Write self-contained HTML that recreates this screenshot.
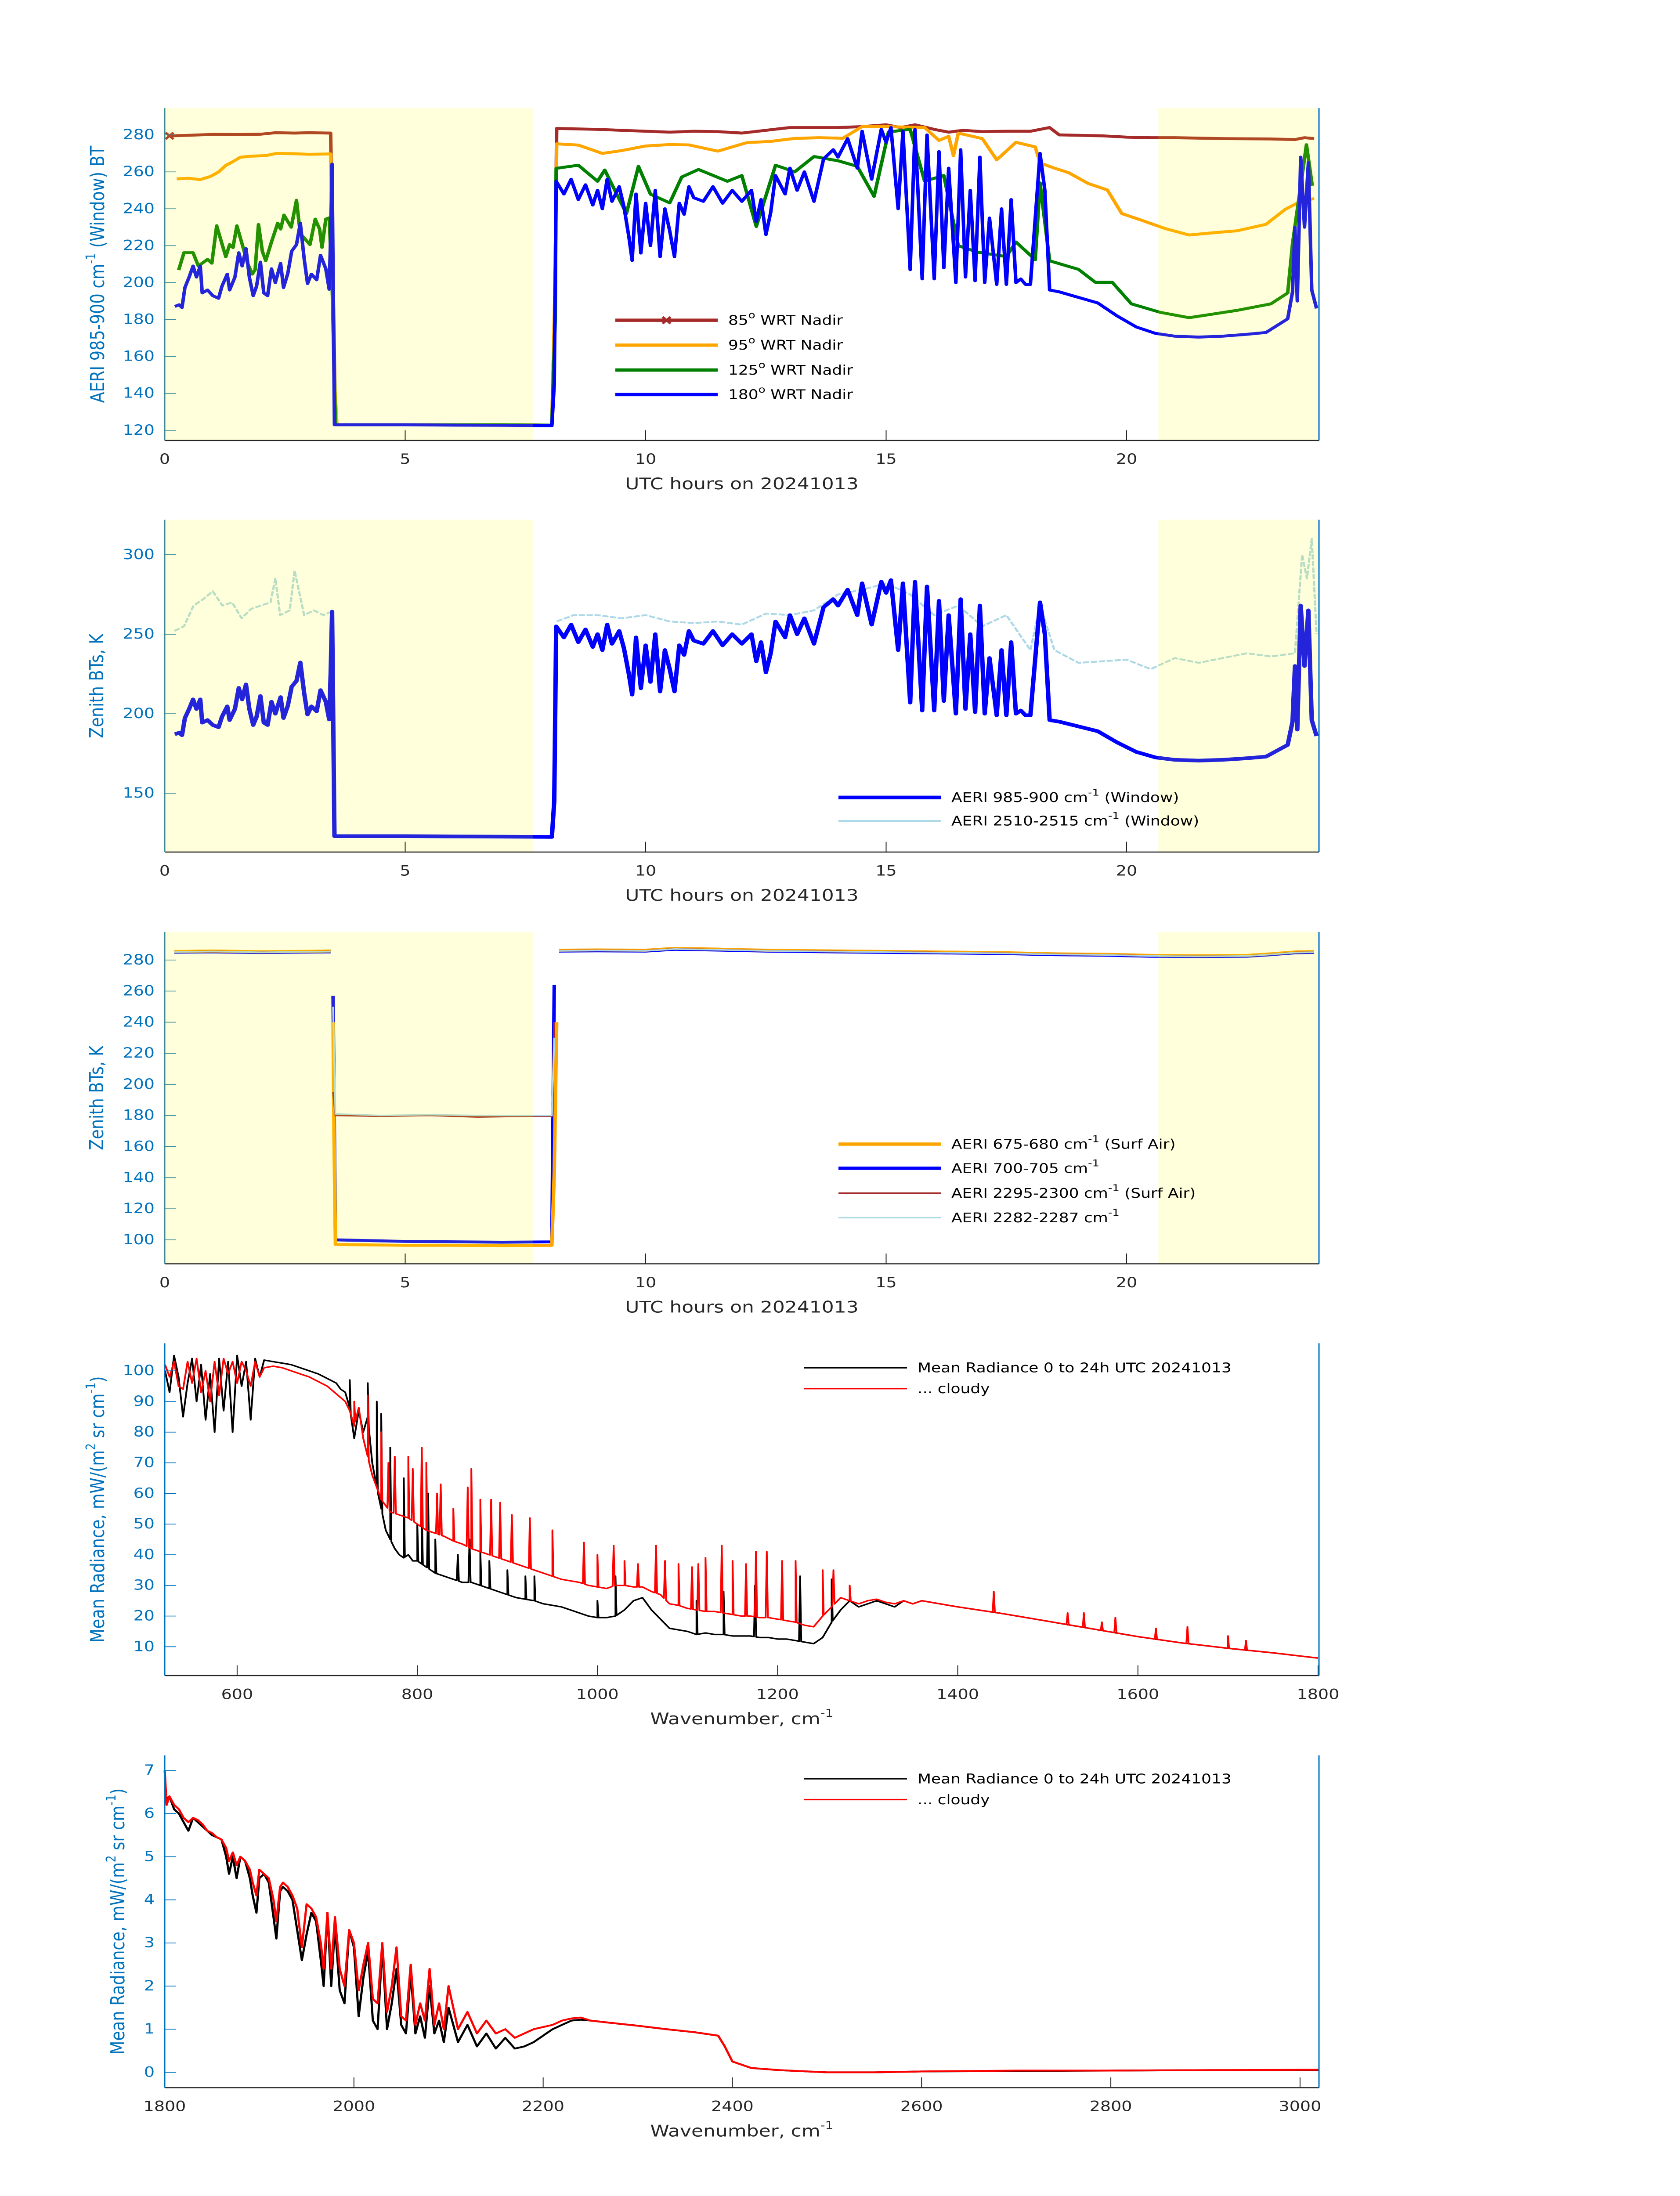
<!DOCTYPE html>
<html><head><meta charset="utf-8"><style>
html,body{margin:0;padding:0;background:#fff;width:100%;height:100%;overflow:hidden}
svg{display:block;position:fixed;left:0;top:0;width:100vw;height:100vh}
text{font-family:"DejaVu Sans","Liberation Sans",sans-serif}
</style></head><body>
<svg id="fig" xmlns="http://www.w3.org/2000/svg" viewBox="0 0 3825 6000" preserveAspectRatio="none"></svg>
<script>
// ---------- Panel 1: AERI 985-900 BT at scan angles ----------
const p1XTicks = [0,5,10,15,20];
const p1YTicks = [120,140,160,180,200,220,240,260,280];
const shadeSpans = [[0,7.66],[20.66,24]];
const bt85 = [[0.1,279.5],[0.5,279.8],[1.0,280.3],[1.5,280.2],[2.0,280.4],[2.3,281.2],[2.7,281],[3.0,281.2],[3.45,281],[3.5,200],[3.55,123],[5,123],[6,123],[7,123],[8.05,122.8],[8.12,200],[8.15,283.5],[9,283],[10,282],[10.5,281.5],[11,282],[11.5,281.8],[12,281],[12.5,282.5],[13,284],[14,284],[14.5,284.5],[15,285.5],[15.3,284],[15.6,285.5],[16,283],[16.3,281.5],[16.6,282.5],[17,281.8],[17.5,282],[18,282],[18.4,284],[18.6,280],[19,279.8],[19.5,279.5],[20,278.8],[20.5,278.5],[21,278.5],[22,278],[23,277.8],[23.5,277.5],[23.7,278.5],[23.9,278]];
const bt95 = [[0.25,256.2],[0.5,256.5],[0.74,255.8],[0.95,257.5],[1.12,259.9],[1.27,263.5],[1.45,266],[1.57,267.9],[1.8,268.5],[2.1,268.8],[2.33,270],[2.7,269.8],[3.0,269.5],[3.45,269.7],[3.52,150],[3.58,123],[5,123],[6,123],[7,123],[8.05,122.8],[8.12,200],[8.15,275.2],[8.6,274.5],[9.1,270],[9.5,271.5],[10,274],[10.5,274.8],[10.9,274.6],[11.5,271.2],[12.1,275.8],[12.6,276.5],[13.1,278.1],[13.6,278.5],[14.1,278.2],[14.5,284.5],[15.0,284.5],[15.8,284],[16.1,277],[16.3,279.3],[16.4,268.8],[16.5,281],[17.0,278],[17.3,266.5],[17.7,276],[18.1,273.5],[18.2,264.8],[18.5,262],[18.8,259.5],[19.2,253.7],[19.6,250.2],[19.9,237.4],[20.3,233.9],[20.8,229.3],[21.3,225.8],[21.8,227],[22.3,228.1],[22.9,231.6],[23.3,239.7],[23.65,244.4],[23.9,245.5]];
const bt125 = [[0.29,206.8],[0.4,216.2],[0.59,216.2],[0.7,209],[0.89,212.6],[0.98,210.5],[1.08,230.8],[1.27,214],[1.35,220.6],[1.42,219],[1.5,230.8],[1.73,210],[1.82,204.6],[1.88,207],[1.95,231.5],[2.03,217],[2.1,211.9],[2.22,222],[2.35,232.2],[2.41,229],[2.48,236.6],[2.63,230],[2.74,244.6],[2.82,226.4],[2.94,223],[3.02,220.6],[3.13,234.4],[3.22,229],[3.27,219.1],[3.35,234.4],[3.42,235.1],[3.48,200],[3.55,123],[5,123],[6,123],[7,123],[8.05,122.8],[8.12,180],[8.14,261.9],[8.6,263.6],[9.0,254.9],[9.15,261],[9.6,237.4],[9.85,263],[10.1,247.9],[10.5,243.2],[10.75,257.2],[11.1,261.3],[11.7,254.9],[12.0,258],[12.3,230.4],[12.7,263.6],[13.1,260],[13.5,268.3],[14.0,266],[14.4,263],[14.75,246.7],[15.05,281.6],[15.5,283],[15.8,255],[16.2,258],[16.5,220],[16.9,216.5],[17.5,214.1],[17.7,222],[18.1,212.4],[18.2,254],[18.4,211.8],[19.0,207.2],[19.35,200.2],[19.7,200.2],[20.1,188.5],[20.7,183.9],[21.3,181],[21.8,183],[22.3,185],[23.0,188.5],[23.35,194.4],[23.45,221.1],[23.74,274.7],[23.86,252.5]];
const bt180 = [[0.21,187.1],[0.3,188],[0.36,186.5],[0.42,197.3],[0.51,203.1],[0.59,209],[0.66,203],[0.74,209],[0.78,194.4],[0.89,196],[1.0,192.9],[1.12,191.5],[1.19,198],[1.3,204.6],[1.35,196],[1.46,203],[1.54,216.2],[1.61,209],[1.69,218.4],[1.76,203],[1.84,192.9],[1.91,198],[1.99,211.1],[2.06,194.4],[2.14,192.9],[2.22,207.5],[2.3,200],[2.41,210.4],[2.47,197.3],[2.56,205],[2.64,217],[2.74,220.6],[2.82,232.2],[2.9,213],[2.97,199.5],[3.05,204.6],[3.16,201.5],[3.24,214.8],[3.35,207.5],[3.42,196.4],[3.45,225],[3.48,264.2],[3.53,123],[5,123],[6,122.8],[7,122.7],[8.05,122.5],[8.1,145],[8.14,254.9],[8.3,248],[8.45,256],[8.6,245],[8.75,253],[8.9,242],[9.0,250],[9.1,240],[9.2,256],[9.3,244],[9.45,252],[9.55,241],[9.65,225],[9.72,212],[9.8,248],[9.9,216],[10.0,243],[10.1,220],[10.2,250],[10.3,214],[10.4,240],[10.5,228],[10.6,214],[10.7,243],[10.8,237],[10.9,252],[11.0,246],[11.2,244],[11.4,252],[11.6,243],[11.8,250],[12.0,244],[12.2,250],[12.3,233],[12.4,245],[12.5,226],[12.6,238],[12.7,258],[12.9,248],[13.0,262],[13.15,250],[13.3,260],[13.5,244],[13.7,267],[13.9,272],[14.0,268],[14.2,278],[14.4,262],[14.5,282],[14.7,256],[14.9,283],[15.0,276],[15.1,284],[15.25,240],[15.35,282],[15.5,207],[15.6,283],[15.75,202],[15.85,280],[16.0,202],[16.1,271],[16.2,208],[16.3,262],[16.45,200],[16.55,272],[16.65,203],[16.75,250],[16.85,201],[16.95,268],[17.05,200],[17.15,235],[17.3,199],[17.4,240],[17.5,199],[17.6,245],[17.7,200],[17.8,202],[17.9,199],[18.0,199],[18.2,270],[18.3,250],[18.4,196],[18.6,195],[19.0,192],[19.4,189],[19.8,182],[20.2,176],[20.6,172.5],[21.0,171],[21.5,170.5],[22.0,171],[22.5,172],[22.9,173],[23.35,180.4],[23.45,195],[23.5,230],[23.55,190],[23.62,268],[23.7,230],[23.78,265],[23.85,196],[23.95,186]];

// ---------- Panel 2: zenith window BTs ----------
const p2YTicks = [150,200,250,300];
const bt2510 = [[0.2,252],[0.4,255],[0.6,268],[0.8,272],[1.0,277],[1.2,268],[1.4,270],[1.6,260],[1.8,266],[2.0,268],[2.2,270],[2.3,285],[2.4,262],[2.6,265],[2.7,290],[2.9,262],[3.1,265],[3.3,262],[3.45,264],null,[8.15,258],[8.5,262],[9.0,262],[9.5,260],[10,262],[10.5,258],[11,257],[11.5,258],[12,256],[12.5,263],[13,262],[13.5,265],[14,275],[14.5,278],[15,282],[15.5,275],[16,262],[16.5,268],[17,255],[17.5,262],[18,240],[18.2,268],[18.5,240],[19,232],[19.5,233],[20,234],[20.5,228],[21,235],[21.5,232],[22,235],[22.5,238],[23,236],[23.5,238],[23.65,300],[23.75,285],[23.85,310],[23.95,250]];

// ---------- Panel 3: surface air BTs ----------
const p3YTicks = [100,120,140,160,180,200,220,240,260,280];
const bt675 = [[0.2,285.5],[1,285.8],[2,285.3],[3,285.6],[3.45,285.8],null,[3.5,240],[3.52,170],[3.55,97],[5,96.5],[6,96.5],[7,96.3],[8.05,96.5],[8.1,143],[8.15,240],null,[8.2,286.3],[9,286.5],[10,286.3],[10.6,287.5],[11.5,287],[12.5,286.3],[14,285.8],[16,285.2],[17.5,284.7],[18.5,284],[19.5,283.7],[20.5,283],[21.5,282.8],[22.5,283],[23,284],[23.5,285.2],[23.9,285.5]];
const bt700 = [[0.2,285],[1,285.2],[2,284.8],[3,285.1],[3.45,285.2],null,[3.5,257],[3.55,100],[5,99],[7,98.5],[8.05,98.7],[8.1,264],null,[8.2,285.7],[9,285.9],[10,285.7],[10.6,286.9],[11.5,286.4],[12.5,285.7],[14,285.2],[16,284.6],[17.5,284.1],[18.5,283.4],[19.5,283.1],[20.5,282.4],[21.5,282.2],[22.5,282.4],[23,283.4],[23.5,284.6],[23.9,284.9]];
const bt2295 = [[0.2,285.3],[1,285.6],[2,285.1],[3,285.4],[3.45,285.5],null,[3.5,195],[3.55,180],[4.5,179.5],[5.5,180],[6.5,179],[7.5,179.5],[8.05,179.5],[8.1,240],null,[8.2,286],[9,286.2],[10,286],[10.6,287.2],[11.5,286.7],[12.5,286],[14,285.5],[16,284.9],[17.5,284.4],[18.5,283.7],[19.5,283.4],[20.5,282.7],[21.5,282.5],[22.5,282.7],[23,283.7],[23.5,284.9],[23.9,285.2]];
const bt2282 = [[0.2,285.2],[1,285.5],[2,285],[3,285.3],[3.45,285.4],null,[3.5,250],[3.55,181],[4.5,180],[5.5,180.5],[6.5,180],[7.5,180],[8.05,180],[8.1,230],null,[8.2,285.9],[9,286.1],[10,285.9],[10.6,287.1],[11.5,286.6],[12.5,285.9],[14,285.4],[16,284.8],[17.5,284.3],[18.5,283.6],[19.5,283.3],[20.5,282.6],[21.5,282.4],[22.5,282.6],[23,283.6],[23.5,284.8],[23.9,285.1]];

// ---------- Panel 4: mean radiance 520-1800 ----------
const p4XTicks = [600,800,1000,1200,1400,1600,1800];
const p4YTicks = [10,20,30,40,50,60,70,80,90,100];
const radClear4 = [[520,100],[525,93],[530,105],[535,98],[540,85],[545,96],[550,104],[555,90],[560,102],[565,84],[570,99],[575,80],[580,104],[585,87],[590,103],[595,80],[600,105],[605,95],[610,103],[615,84],[620,104],[625,98],[630,103.5],[640,103],[650,102.5],[660,102],[670,101],[680,100],[690,99],[700,97.5],[710,96],[715,94],[720,93],[725,88],[730,78],[735,87],[740,80],[745,85],[750,70],[755,62],[760,55],[765,48],[770,45],[775,42],[780,40],[785,39],[790,40],[795,38],[800,38],[805,37],[810,36],[820,34],[830,33],[840,32],[850,31],[860,31],[870,30],[880,29],[890,28],[900,27],[910,26],[920,25.5],[930,25],[940,24],[950,23.5],[960,23],[970,22],[980,21],[990,20],[1000,19.5],[1010,19.5],[1020,20],[1030,22],[1040,25],[1050,26],[1055,24],[1060,22],[1070,19],[1080,16],[1090,15.5],[1100,15],[1110,14],[1120,14.5],[1130,14],[1140,14],[1150,13.5],[1160,13.5],[1170,13.5],[1180,13],[1190,13],[1200,12.5],[1210,12.5],[1220,12],[1230,11.5],[1240,11],[1250,13],[1260,18],[1270,22],[1280,25],[1290,23],[1300,24],[1310,25],[1320,24],[1330,23],[1340,25],[1350,24],[1360,25],[1370,24.5],[1380,24],[1400,23],[1450,20.8],[1500,18.3],[1550,15.8],[1600,13.3],[1650,11.2],[1700,9.5],[1750,8],[1800,6.3]];
const spikesClear4 = [[725,97],[745,96],[755,90],[760,86],[770,75],[785,65],[800,50],[805,55],[812,60],[820,45],[845,40],[858,45],[870,41],[880,38],[900,35],[920,33],[930,33],[1000,25],[1020,33],[1110,25],[1140,28],[1175,30],[1225,33],[1260,32]];
const radCloud4 = [[520,102],[525,98],[530,103],[535,95],[540,94],[545,103],[550,96],[555,104],[560,93],[565,100],[570,90],[575,103],[580,92],[585,104],[590,99],[595,103],[600,96],[605,103],[610,100],[615,95],[620,103],[625,98],[630,101],[640,101.5],[650,101],[660,100],[670,99],[680,98],[690,96.5],[700,95],[710,92.5],[720,90],[725,87],[730,82],[735,88],[740,78],[745,72],[750,66],[755,62],[760,58],[770,54],[780,53],[790,52],[800,50],[810,48],[820,47],[830,46],[840,44.5],[850,43.5],[860,42],[870,41],[880,40],[890,39],[900,38],[910,37],[920,36],[930,35],[940,34],[950,33],[960,32],[970,31.5],[980,31],[990,30],[1000,29.5],[1010,29],[1020,30],[1030,30],[1040,29.5],[1050,29.5],[1060,28],[1070,27],[1080,24],[1090,23.5],[1100,22.5],[1110,22],[1120,21.5],[1130,21.5],[1140,21],[1150,20.5],[1160,20],[1170,20],[1180,19.5],[1190,19.5],[1200,19],[1210,18.5],[1220,18],[1230,17],[1240,16.5],[1250,20],[1260,23],[1270,26],[1280,25],[1290,24],[1300,25],[1310,25.5],[1320,24.5],[1330,24],[1340,25],[1350,24],[1360,25],[1370,24.5],[1380,24],[1400,23],[1450,20.8],[1500,18.3],[1550,15.8],[1600,13.3],[1650,11.2],[1700,9.5],[1750,8],[1800,6.3]];
const spikesCloud4 = [[730,90],[745,92],[760,80],[768,70],[775,72],[790,72],[795,68],[805,75],[810,70],[822,60],[826,63],[840,55],[856,62],[860,68],[870,58],[882,58],[892,57],[905,53],[925,52],[950,48],[985,44],[1000,40],[1018,43],[1030,38],[1045,37],[1065,43],[1075,38],[1090,37],[1105,36],[1112,37],[1120,39],[1138,43],[1150,38],[1165,37],[1176,41],[1188,41],[1205,38],[1220,38],[1250,35],[1262,35],[1280,30],[1440,28],[1522,21],[1540,21],[1560,18],[1575,19.5],[1620,16],[1655,16.5],[1700,13.5],[1720,12]];

// ---------- Panel 5: mean radiance 1800-3020 ----------
const p5XTicks = [1800,2000,2200,2400,2600,2800,3000];
const p5YTicks = [0,1,2,3,4,5,6,7];
const radClear5 = [[1800,6.3],[1805,6.4],[1810,6.1],[1815,6.0],[1820,5.8],[1825,5.6],[1830,5.9],[1835,5.8],[1840,5.7],[1845,5.6],[1850,5.5],[1855,5.45],[1860,5.4],[1865,5.0],[1868,4.6],[1872,5.0],[1876,4.5],[1880,5.0],[1885,4.9],[1890,4.5],[1893,4.1],[1897,3.7],[1900,4.5],[1905,4.6],[1910,4.4],[1915,3.6],[1918,3.1],[1922,4.2],[1925,4.3],[1930,4.2],[1935,4.0],[1940,3.3],[1945,2.6],[1950,3.2],[1955,3.7],[1960,3.5],[1965,2.6],[1968,2.0],[1972,3.7],[1976,2.0],[1980,3.4],[1985,1.9],[1990,1.6],[1995,3.3],[2000,2.9],[2005,1.3],[2010,2.2],[2015,2.8],[2020,1.2],[2025,1.0],[2030,2.9],[2035,1.0],[2040,1.6],[2045,2.4],[2050,1.1],[2055,0.9],[2060,2.3],[2065,0.9],[2070,1.3],[2075,0.8],[2080,2.0],[2085,0.9],[2090,1.2],[2095,0.7],[2100,1.5],[2110,0.7],[2120,1.1],[2130,0.6],[2140,0.9],[2150,0.55],[2160,0.8],[2170,0.55],[2180,0.6],[2190,0.7],[2200,0.85],[2210,1.0],[2220,1.1],[2230,1.2],[2240,1.22],[2250,1.2],[2270,1.15],[2300,1.08],[2330,1.0],[2360,0.93],[2385,0.85],[2392,0.6],[2400,0.25],[2420,0.1],[2450,0.05],[2500,0.0],[2550,0.0],[2600,0.02],[2700,0.03],[2800,0.04],[2900,0.05],[3020,0.05]];
const radCloud5 = [[1800,7.0],[1802,6.2],[1805,6.4],[1810,6.2],[1815,6.1],[1820,5.9],[1825,5.8],[1830,5.9],[1835,5.85],[1840,5.75],[1845,5.6],[1850,5.55],[1855,5.45],[1860,5.4],[1865,5.2],[1868,4.9],[1872,5.1],[1876,4.8],[1880,5.0],[1885,4.9],[1890,4.7],[1893,4.4],[1897,4.1],[1900,4.7],[1905,4.6],[1910,4.5],[1915,4.0],[1918,3.5],[1922,4.3],[1925,4.4],[1930,4.3],[1935,4.1],[1940,3.8],[1945,2.9],[1950,3.9],[1955,3.8],[1960,3.6],[1965,3.0],[1968,2.4],[1972,3.7],[1976,2.4],[1980,3.6],[1985,2.4],[1990,2.0],[1995,3.3],[2000,3.0],[2005,1.9],[2010,2.5],[2015,3.0],[2020,1.7],[2025,1.6],[2030,3.0],[2035,1.4],[2040,2.0],[2045,2.9],[2050,1.3],[2055,1.2],[2060,2.5],[2065,1.1],[2070,1.6],[2075,1.2],[2080,2.4],[2085,1.1],[2090,1.6],[2095,1.0],[2100,2.0],[2110,1.0],[2120,1.4],[2130,0.9],[2140,1.2],[2150,0.9],[2160,1.0],[2170,0.8],[2180,0.9],[2190,1.0],[2200,1.05],[2210,1.1],[2220,1.2],[2230,1.25],[2240,1.27],[2250,1.2],[2270,1.15],[2300,1.08],[2330,1.0],[2360,0.93],[2385,0.85],[2392,0.6],[2400,0.25],[2420,0.1],[2450,0.05],[2500,0.0],[2550,0.0],[2600,0.02],[2700,0.04],[2800,0.04],[2900,0.05],[3020,0.06]];

const NS = "http://www.w3.org/2000/svg";
const fig = document.getElementById('fig');
function el(tag, attrs, parent){
  const e = document.createElementNS(NS, tag);
  for (const k in attrs) e.setAttribute(k, attrs[k]);
  (parent||fig).appendChild(e);
  return e;
}
function scale(d0,d1,r0,r1){ return v => r0 + (v-d0)/(d1-d0)*(r1-r0); }
function pathD(pts, sx, sy){
  let d = '', pen = false;
  for (const p of pts){
    if (!p){ pen=false; continue; }
    d += (pen?'L':'M') + sx(p[0]).toFixed(1) + ' ' + sy(p[1]).toFixed(1);
    pen = true;
  }
  return d;
}
function interp(base, x){
  for (let i=1;i<base.length;i++){
    if (base[i][0] >= x){
      const a=base[i-1], b=base[i];
      return a[1] + (b[1]-a[1])*(x-a[0])/(b[0]-a[0]);
    }
  }
  return base[base.length-1][1];
}
function withSpikes(base, spikes){
  const out = base.slice();
  for (const s of spikes){
    out.push([s[0]-1.2, interp(base, s[0]-1.2)]);
    out.push([s[0], s[1]]);
    out.push([s[0]+1.2, interp(base, s[0]+1.2)]);
  }
  out.sort((a,b)=>a[0]-b[0]);
  return out;
}

const L = 375, R = 3003;
const BLUE = '#0072BD', DARK = '#262626', TEAL = '#3b8b9c';

function makePanel(cfg){
  const g = el('g', {});
  
  
  const sx = scale(cfg.xd[0], cfg.xd[1], L, R);
  const sy = scale(cfg.yd[0], cfg.yd[1], cfg.bottom, cfg.top);
  return {g, sx, sy};
}
function drawAxes(P, cfg){
  const {g, sx, sy} = P;
  const axG = el('g', {}, g);
  
  
  const yc = cfg.yAxisColor;
  for (const t of cfg.yticks){
    const y = sy(t);
    const tk = el('line', {x1:L, x2:L+26, y1:y, y2:y, stroke:yc, 'stroke-width':2}, axG);
    
    
    const lb = el('text', {x:352, y:y, 'text-anchor':'end', 'dominant-baseline':'central', 'font-size':38, fill:BLUE}, axG);
    
    
    lb.textContent = t;
  }
  for (const t of cfg.xticks){
    const x = sx(t);
    const tk = el('line', {x1:x, x2:x, y1:cfg.bottom, y2:cfg.bottom-28, stroke:DARK, 'stroke-width':2}, axG);
    
    
    const lb = el('text', {x:x, y:cfg.bottom+52, 'text-anchor':'middle', 'dominant-baseline':'central', 'font-size':38, fill:DARK}, axG);
    
    
    lb.textContent = t;
  }
  const xa = el('line', {x1:L, x2:R, y1:cfg.bottom, y2:cfg.bottom, stroke:DARK, 'stroke-width':3}, axG);
  
  
  const ya = el('line', {x1:L, x2:L, y1:cfg.top, y2:cfg.bottom, stroke:yc, 'stroke-width':3}, axG);
  
  
  const ra = el('line', {x1:R, x2:R, y1:cfg.top, y2:cfg.bottom, stroke:BLUE, 'stroke-width':3}, axG);
  
  
  const xl = el('text', {x:(L+R)/2, y:cfg.bottom+118, 'text-anchor':'middle', 'dominant-baseline':'central', 'font-size':44, fill:DARK}, axG);
  
  
  xl.innerHTML = cfg.xlabel;
  const cy = (cfg.top+cfg.bottom)/2;
  const yl = el('text', {x:cfg.ylx, y:cy, 'text-anchor':'middle', 'dominant-baseline':'central', 'font-size':44, fill:BLUE, transform:`rotate(-90 ${cfg.ylx} ${cy})`}, axG);
  
  
  yl.innerHTML = cfg.ylabel;
}
function drawSeries(P, pts, color, w, name){
  const p = el('path', {d:pathD(pts, P.sx, P.sy), fill:'none', stroke:color, 'stroke-width':w, 'stroke-linejoin':'round', 'stroke-linecap':'butt'}, P.g);
  
  
  return p;
}
function drawShade(P, cfg){
  for (const s of shadeSpans){
    const x0 = P.sx(s[0]), x1 = Math.min(P.sx(s[1]), R-2);
    const r = el('rect', {x:x0, y:cfg.top, width:x1-x0, height:cfg.bottom-cfg.top, fill:'#ffff00', 'fill-opacity':0.14}, P.g);
    
    
  }
}
function legend(P, x0, x1, entries){
  const lg = el('g', {}, P.g);
  
  
  for (const e of entries){
    const ln = el('line', {x1:x0, x2:x1, y1:e.y, y2:e.y, stroke:e.color, 'stroke-width':e.w}, lg);
    
    
    if (e.marker){
      const mx = (x0+x1)/2;
      const mk = el('path', {d:`M${mx-9} ${e.y-9}L${mx+9} ${e.y+9}M${mx-9} ${e.y+9}L${mx+9} ${e.y-9}`, stroke:e.color, 'stroke-width':6}, lg);
      
      
    }
    const tx = el('text', {x:x1+24, y:e.y, 'dominant-baseline':'central', 'font-size':36, fill:'#000'}, lg);
    
    
    tx.innerHTML = e.label;
  }
}
const SUP1 = '<tspan dy="-14" font-size="26">-1</tspan><tspan dy="14"> </tspan>';
const SUPD = '<tspan dy="-14" font-size="26">o</tspan><tspan dy="14"> </tspan>';

const c1 = {name:'panel-scan-angles', xd:[0,24], yd:[114.5,294.5], top:295.5, bottom:1203.5, xticks:p1XTicks, yticks:p1YTicks, yAxisColor:TEAL, ylx:222,
  xlabel:'UTC hours on 20241013', ylabel:'AERI 985-900 cm<tspan dy="-16" font-size="30">-1</tspan><tspan dy="16"> (Window) BT</tspan>'};
const P1 = makePanel(c1);
drawSeries(P1, bt85, '#A52A2A', 8, 'line-85deg');
drawSeries(P1, bt95, '#FFA500', 8, 'line-95deg');
drawSeries(P1, bt125, '#008000', 8, 'line-125deg');
drawSeries(P1, bt180, '#0000FF', 8, 'line-180deg');
const m0 = el('path', {d:`M${P1.sx(bt85[0][0])-9} ${P1.sy(bt85[0][1])-9}l18 18m-18 0l18 -18`, stroke:'#A52A2A', 'stroke-width':6}, P1.g);


drawShade(P1, c1);
drawAxes(P1, c1);
legend(P1, 1401, 1634, [
  {y:875, color:'#A52A2A', w:9, marker:true, label:'85'+SUPD+'WRT Nadir'},
  {y:943, color:'#FFA500', w:9, label:'95'+SUPD+'WRT Nadir'},
  {y:1011, color:'#008000', w:9, label:'125'+SUPD+'WRT Nadir'},
  {y:1078, color:'#0000FF', w:9, label:'180'+SUPD+'WRT Nadir'}]);

const c2 = {name:'panel-zenith-window', xd:[0,24], yd:[113,322], top:1420, bottom:2328, xticks:p1XTicks, yticks:p2YTicks, yAxisColor:TEAL, ylx:220,
  xlabel:'UTC hours on 20241013', ylabel:'Zenith BTs, K'};
const P2 = makePanel(c2);
drawSeries(P2, bt2510, '#ADD8E6', 5, 'line-2510-window').setAttribute('stroke-dasharray', '14 4');
drawSeries(P2, bt180, '#0000FF', 10, 'line-985-window');
drawShade(P2, c2);
drawAxes(P2, c2);
legend(P2, 1909, 2142, [
  {y:2179, color:'#0000FF', w:10, label:'AERI 985-900 cm'+SUP1+'(Window)'},
  {y:2243, color:'#ADD8E6', w:5, label:'AERI 2510-2515 cm'+SUP1+'(Window)'}]);

const c3 = {name:'panel-surface-air', xd:[0,24], yd:[84.6,298], top:2546.5, bottom:3453, xticks:p1XTicks, yticks:p3YTicks, yAxisColor:TEAL, ylx:220,
  xlabel:'UTC hours on 20241013', ylabel:'Zenith BTs, K'};
const P3 = makePanel(c3);
drawSeries(P3, bt700, '#0000FF', 8, 'line-700-705');
drawSeries(P3, bt675, '#FFA500', 8, 'line-675-680');
drawSeries(P3, bt2295, '#A52A2A', 4, 'line-2295-2300');
drawSeries(P3, bt2282, '#ADD8E6', 4, 'line-2282-2287');
drawShade(P3, c3);
drawAxes(P3, c3);
legend(P3, 1909, 2142, [
  {y:3126, color:'#FFA500', w:9, label:'AERI 675-680 cm'+SUP1+'(Surf Air)'},
  {y:3192, color:'#0000FF', w:9, label:'AERI 700-705 cm'+SUP1},
  {y:3260, color:'#A52A2A', w:4, label:'AERI 2295-2300 cm'+SUP1+'(Surf Air)'},
  {y:3327, color:'#ADD8E6', w:4, label:'AERI 2282-2287 cm'+SUP1}]);

const radLabel = 'Mean Radiance, mW/(m<tspan dy="-16" font-size="30">2</tspan><tspan dy="16"> sr cm</tspan><tspan dy="-16" font-size="30">-1</tspan><tspan dy="16">)</tspan>';
const c4 = {name:'panel-radiance-lw', xd:[519.6,1801], yd:[0.6,109], top:3670, bottom:4578, xticks:p4XTicks, yticks:p4YTicks, yAxisColor:BLUE, ylx:222,
  xlabel:'Wavenumber, cm<tspan dy="-16" font-size="30">-1</tspan>', ylabel:radLabel};
const P4 = makePanel(c4);
drawSeries(P4, withSpikes(radClear4, spikesClear4), '#000000', 4, 'line-mean-radiance');
drawSeries(P4, withSpikes(radCloud4, spikesCloud4), '#FF0000', 4, 'line-cloudy-radiance');
drawAxes(P4, c4);
legend(P4, 1830, 2065, [
  {y:3737, color:'#000000', w:4, label:'Mean Radiance 0 to 24h UTC 20241013'},
  {y:3794, color:'#FF0000', w:4, label:'... cloudy'}]);

const c5 = {name:'panel-radiance-sw', xd:[1800,3020], yd:[-0.356,7.35], top:4796, bottom:5704, xticks:p5XTicks, yticks:p5YTicks, yAxisColor:BLUE, ylx:268,
  xlabel:'Wavenumber, cm<tspan dy="-16" font-size="30">-1</tspan>', ylabel:radLabel};
const P5 = makePanel(c5);
drawSeries(P5, radClear5, '#000000', 5, 'line-mean-radiance-sw');
drawSeries(P5, radCloud5, '#FF0000', 5, 'line-cloudy-radiance-sw');
drawAxes(P5, c5);
legend(P5, 1830, 2065, [
  {y:4860, color:'#000000', w:4, label:'Mean Radiance 0 to 24h UTC 20241013'},
  {y:4917, color:'#FF0000', w:4, label:'... cloudy'}]);
</script>
</body></html>
